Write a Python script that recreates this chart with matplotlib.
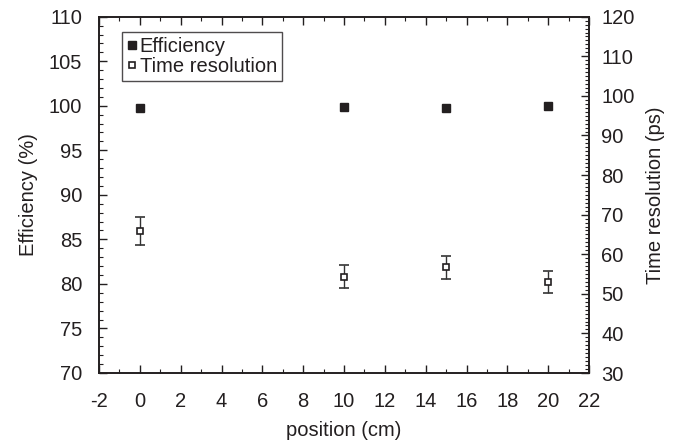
import matplotlib
matplotlib.use("Agg")
import matplotlib.pyplot as plt
from matplotlib.ticker import MultipleLocator
from matplotlib.lines import Line2D

plt.rcParams['font.family'] = ['Liberation Sans', 'DejaVu Sans']
plt.rcParams['axes.unicode_minus'] = False

positions = [0, 10, 15, 20]
efficiency = [99.75, 99.9, 99.75, 99.95]
time_res = [65.9, 54.3, 56.7, 52.9]
time_res_err = [3.5, 2.9, 2.85, 2.8]

ink = '#231f20'
fig = plt.figure(figsize=(6.86, 4.47), dpi=100)
ax = fig.add_axes([99/686, 1-373/447, (589-99)/686, (373-16.7)/447])
ax2 = ax.twinx()

ax.plot(positions, efficiency, linestyle='none', marker='s', markersize=5.5,
        color=ink, label='Efficiency')
ax2.errorbar(positions, time_res, yerr=time_res_err, linestyle='none', marker='s',
             markersize=4.5, markerfacecolor='white', markeredgecolor=ink,
             markeredgewidth=1.2, ecolor='#333333', elinewidth=1.0, capsize=3.5,
             capthick=1.0, label='Time resolution')

ax.set_xlim(-2, 22)
ax.set_ylim(70, 110)
ax2.set_ylim(30, 120)

ax.xaxis.set_major_locator(MultipleLocator(2))
ax.xaxis.set_minor_locator(MultipleLocator(1))
ax.yaxis.set_major_locator(MultipleLocator(5))
ax.yaxis.set_minor_locator(MultipleLocator(1))
ax2.yaxis.set_major_locator(MultipleLocator(10))
ax2.yaxis.set_minor_locator(MultipleLocator(1))

fs = 14.5
ax.tick_params(axis='x', which='both', direction='in', top=True, bottom=True,
               labelsize=fs, pad=14, color=ink, labelcolor=ink)
ax.tick_params(axis='y', which='both', direction='in', left=True, right=False,
               labelsize=fs, pad=12, color=ink, labelcolor=ink)
ax2.tick_params(axis='y', which='both', direction='in', left=False, right=True,
                labelsize=fs, pad=9, color=ink, labelcolor=ink)
for a in (ax, ax2):
    a.tick_params(which='major', length=6, width=1.0)
    a.tick_params(which='minor', length=3, width=0.8)
    for s in a.spines.values():
        s.set_linewidth(1.2)
        s.set_color(ink)

ax.set_xlabel('position (cm)', fontsize=fs, labelpad=7, color=ink)
ax.set_ylabel('Efficiency (%)', fontsize=fs, labelpad=8, color=ink)
ax2.set_ylabel('Time resolution (ps)', fontsize=fs, labelpad=8, color=ink)

h1, l1 = ax.get_legend_handles_labels()
h2 = [Line2D([], [], linestyle='none', marker='s', markersize=4.5,
             markerfacecolor='white', markeredgecolor=ink, markeredgewidth=1.2)]
leg = ax.legend(h1 + h2, l1 + ['Time resolution'], loc='upper left',
                bbox_to_anchor=(0.046, 0.958),
                fontsize=fs, frameon=True, fancybox=False, handlelength=0.5,
                handletextpad=0.15, borderpad=0.25, labelspacing=0.05,
                borderaxespad=0, labelcolor=ink)
leg.get_frame().set_edgecolor(ink)
leg.get_frame().set_linewidth(1.0)

fig.savefig('out.png', dpi=100)
